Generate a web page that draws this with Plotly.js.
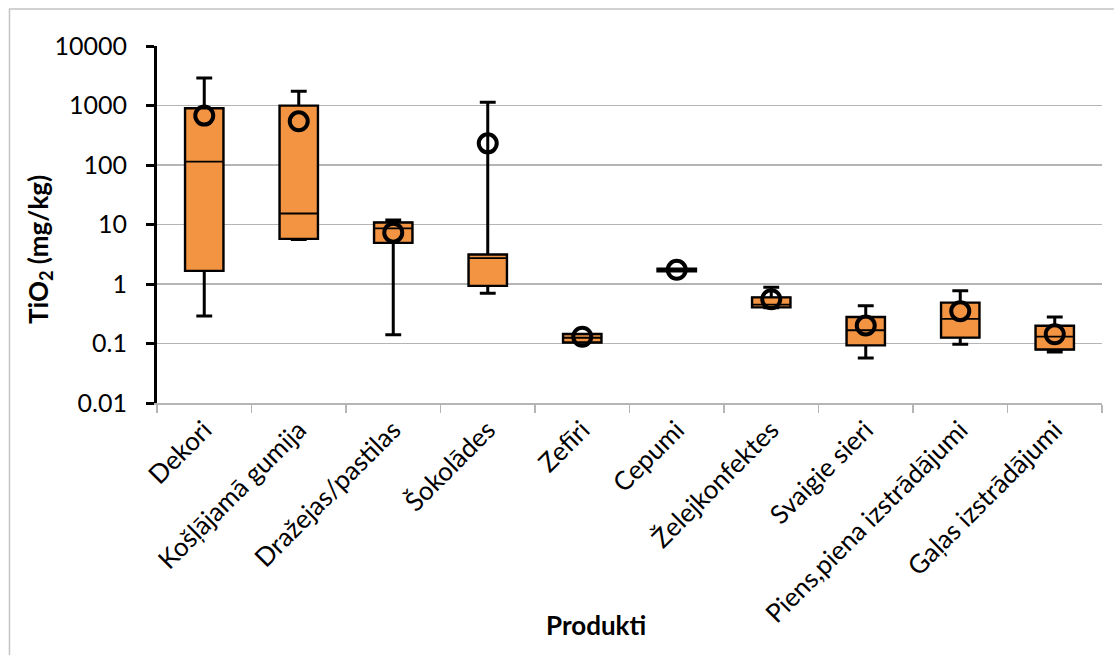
<!DOCTYPE html>
<html>
<head>
<meta charset="utf-8">
<script src="https://cdn.plot.ly/plotly-3.0.1.min.js"></script>
<style>
html,body{margin:0;padding:0;background:#fff;overflow:hidden;}
#chart{width:1114px;height:655px;}
</style>
</head>
<body>
<div id="chart"></div>
<script>
var categories = ["Dekori", "Košļājamā gumija", "Dražejas/pastilas", "Šokolādes", "Zefīri",
  "Cepumi", "Želejkonfektes", "Svaigie sieri", "Piens,piena izstrādājumi", "Gaļas izstrādājumi"];
var minVals    = [0.29, 5.6, 0.14, 0.70, 0.105, 1.65, 0.40, 0.057, 0.097, 0.072];
var q1Vals     = [1.68, 5.8, 4.97, 0.94, 0.105, 1.66, 0.41, 0.094, 0.127, 0.080];
var medianVals = [114, 15.3, 8.6, 2.72, 0.125, 1.72, 0.45, 0.167, 0.26, 0.13];
var q3Vals     = [887, 984, 10.7, 3.09, 0.143, 1.78, 0.59, 0.276, 0.48, 0.197];
var maxVals    = [2900, 1734, 11.9, 1132, 0.143, 1.79, 0.88, 0.43, 0.77, 0.28];
var meanVals   = [676, 542, 7.3, 231, 0.13, 1.73, 0.555, 0.20, 0.35, 0.143];
var yTickVals  = [0.01, 0.1, 1, 10, 100, 1000, 10000];
var yTickText  = ["0.01", "0.1", "1", "10", "100", "1000", "10000"];

var orange = "#F39443";
var fontFam = "Lato, 'Open Sans', sans-serif";

var whiskerTrace = {
  type: "box", x: categories, q1: q1Vals, median: medianVals, q3: q3Vals,
  lowerfence: minVals, upperfence: maxVals, width: 0.4, whiskerwidth: 0.42,
  fillcolor: orange, line: {color: "#000", width: 3}, boxpoints: false,
  hoverinfo: "skip", showlegend: false
};
var boxTrace = {
  type: "box", x: categories, q1: q1Vals, median: medianVals, q3: q3Vals,
  lowerfence: q1Vals, upperfence: q3Vals, width: 0.4, whiskerwidth: 0,
  fillcolor: orange, line: {color: "#000", width: 1.8}, boxpoints: false,
  showlegend: false
};
var meanTrace = {
  type: "scatter", mode: "markers", x: categories, y: meanVals,
  marker: {symbol: "circle-open", size: 18, color: "#000", line: {width: 4, color: "#000"}},
  showlegend: false
};

var layout = {
  width: 1114, height: 655,
  margin: {l: 157, r: 12, t: 46, b: 252},
  paper_bgcolor: "#fff", plot_bgcolor: "#fff",
  font: {family: fontFam, color: "#000", size: 24},
  showlegend: false,
  boxmode: "overlay",
  xaxis: {
    type: "category", range: [-0.5, 9.5], tickangle: -45,
    showline: true, linecolor: "#b5b5b5", linewidth: 1.5,
    ticks: "outside", tickson: "boundaries", ticklen: 8, tickwidth: 1.5, tickcolor: "#b5b5b5",
    showgrid: false, zeroline: false,
    tickfont: {family: fontFam, size: 26, color: "#000"}
  },
  yaxis: {
    type: "log", range: [-2, 4], tickvals: yTickVals, ticktext: yTickText,
    showline: true, linecolor: "#000", linewidth: 3,
    ticks: "outside", ticklen: 8, tickwidth: 3, tickcolor: "#000",
    ticklabelstandoff: 14,
    showgrid: true, gridcolor: "#b5b5b5", gridwidth: 1.5, zeroline: false,
    tickfont: {family: fontFam, size: 25, color: "#000"}
  },
  annotations: [
    {text: "<b>Produkti</b>", xref: "paper", yref: "paper", x: 0.4646, y: -0.622,
     xanchor: "center", yanchor: "middle", showarrow: false,
     font: {family: fontFam, size: 26, color: "#000"}},
    {text: "<b>TiO<sub>2</sub> (mg/kg)</b>", xref: "paper", yref: "paper", x: -0.1238, y: 0.4286,
     xanchor: "center", yanchor: "middle", showarrow: false, textangle: -90,
     font: {family: fontFam, size: 26, color: "#000"}}
  ],
  shapes: [
    {type: "rect", xref: "paper", yref: "paper", x0: -0.1561, x1: 1.2, y0: 1.1036, y1: -0.9,
     line: {color: "#c4c4c4", width: 1.5}, fillcolor: "rgba(0,0,0,0)", layer: "below"}
  ]
};

Plotly.newPlot("chart", [whiskerTrace, boxTrace, meanTrace], layout, {staticPlot: true, displayModeBar: false});
</script>
</body>
</html>
